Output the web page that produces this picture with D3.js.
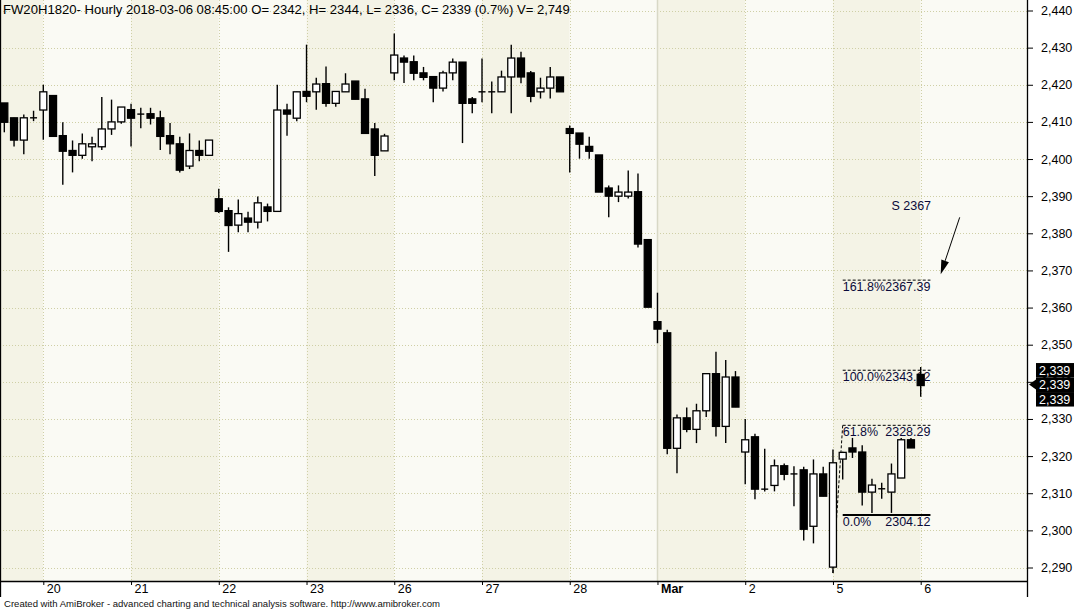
<!DOCTYPE html>
<html><head><meta charset="utf-8">
<script src="https://cdn.jsdelivr.net/npm/d3@7"></script>
<style>body{margin:0;background:#fff;} svg{display:block;font-family:"Liberation Sans",Arial,sans-serif;}</style>
</head><body><svg id="c" width="1089" height="609"></svg>
<script>
// ---- data (hourly bars) ----
const openP  = [2415.1,2411.1,2405.1,2411.1,2413.2,2417.1,2406.3,2402.3,2401.0,2403.3,2403.3,2408.1,2410.0,2413.3,2412.1,2412.2,2411.1,2406.3,2404.1,2398.1,2402.3,2401.0,
 2389.3,2386.1,2382.2,2384.1,2383.0,2387.1,2385.9,2413.2,2411.0,2418.2,2418.1,2420.3,2415.0,2418.1,2421.0,2416.2,2408.1,2402.2,
 2423.2,2427.2,2426.2,2423.2,2422.2,2419.1,2423.2,2426.1,2416.2,2418.1,2418.1,2418.1,2422.1,2427.2,2423.2,2418.1,2419.1,2422.1,
 2408.2,2407.0,2403.4,2401.1,2392.2,2390.0,2390.0,2391.2,2378.3,2356.2,2353.2,2322.1,2330.3,2327.2,2332.2,2342.2,2328.0,2341.3,
 2321.1,2325.2,2311.1,2312.1,2317.4,2315.2,2316.3,2301.1,2315.2,2290.1,2319.2,2322.2,2321.1,2310.3,2311.2,2310.3,2314.1,2324.4,2342];
const highP  = [2415.1,2411.1,2412.0,2413.0,2420.0,2417.1,2409.9,2405.0,2406.9,2406.0,2416.7,2416.0,2414.0,2414.9,2413.8,2413.8,2413.0,2409.7,2406.0,2406.9,2405.0,2405.1,
 2392.0,2387.0,2389.1,2385.8,2389.9,2388.0,2420.0,2414.9,2418.1,2430.8,2421.9,2424.9,2418.2,2423.1,2421.0,2418.9,2409.7,2406.8,
 2433.8,2427.9,2427.9,2424.8,2422.2,2423.8,2427.1,2426.1,2416.7,2427.1,2420.9,2423.8,2430.8,2428.9,2423.7,2421.9,2424.8,2422.1,
 2409.0,2407.0,2406.0,2401.1,2392.9,2392.9,2396.9,2396.1,2378.3,2364.0,2354.0,2331.2,2333.1,2334.1,2342.2,2348.1,2345.9,2342.9,
 2330.0,2326.0,2322.0,2319.1,2318.0,2317.3,2317.1,2319.1,2317.1,2321.8,2321.2,2324.9,2322.9,2313.9,2312.8,2318.0,2324.9,2324.9,2344];
const lowP   = [2407.2,2403.4,2401.3,2410.2,2405.2,2406.1,2393.1,2396.4,2400.1,2399.4,2402.4,2406.5,2409.5,2403.4,2408.3,2409.3,2402.4,2401.3,2396.4,2397.3,2399.4,2401.0,
 2385.5,2375.0,2380.3,2380.3,2381.3,2383.2,2385.9,2406.3,2410.2,2415.3,2413.3,2414.1,2414.1,2418.1,2416.1,2406.9,2395.4,2402.2,
 2421.2,2420.5,2421.2,2421.2,2415.3,2418.2,2421.2,2404.3,2412.3,2415.3,2412.3,2418.1,2412.3,2420.4,2415.3,2416.3,2416.3,2418.1,
 2396.4,2400.1,2400.1,2391.1,2384.3,2388.4,2389.4,2376.2,2360.1,2350.4,2320.5,2315.4,2326.4,2323.5,2330.5,2325.3,2323.5,2333.2,
 2312.4,2308.4,2310.5,2310.5,2313.5,2306.5,2297.3,2296.5,2309.2,2288.5,2313.7,2319.5,2306.7,2304.7,2308.5,2304.7,2314.1,2322.2,2336];
const closeP = [2409.9,2405.1,2411.1,2411.1,2418.1,2406.1,2402.1,2401.0,2404.1,2404.1,2408.1,2410.0,2414.0,2411.0,2412.1,2411.0,2406.1,2404.1,2397.0,2402.3,2401.0,2405.1,
 2385.9,2382.1,2385.3,2383.0,2388.2,2385.9,2413.2,2412.1,2418.1,2416.9,2420.2,2415.0,2418.2,2420.2,2416.1,2406.9,2401.0,2406.2,
 2428.0,2426.1,2423.1,2422.0,2419.1,2423.2,2426.1,2415.0,2415.0,2418.1,2418.1,2422.1,2427.2,2422.1,2416.9,2419.1,2422.1,2418.1,
 2406.9,2404.0,2402.1,2391.1,2390.0,2391.1,2391.1,2377.1,2360.1,2354.2,2322.1,2330.3,2327.2,2332.2,2342.2,2328.0,2341.3,2333.2,
 2324.4,2311.1,2311.1,2317.4,2315.1,2315.2,2300.3,2315.2,2309.2,2318.2,2321.0,2321.1,2310.3,2312.2,2311.2,2315.2,2324.4,2322.2,2339];

const dayLabels = ["20","21","22","23","26","27","28","Mar","2","5","6"];
const dayStart  = [4,13,22,31,40,49,58,67,76,85,94];
const priceTicks = [2290,2300,2310,2320,2330,2340,2350,2360,2370,2380,2390,2400,2410,2420,2430,2440];

const fibPct  = ["161.8%","100.0%","61.8%","0.0%"];
const fibVal  = [2367.39,2343.12,2328.29,2304.12];
const fibFrom = 86, fibTo = 95;
const lastLabels = ["2,339","2,339","2,339"];
const lastPrice = 2339;

const titleText = "FW20H1820- Hourly 2018-03-06 08:45:00 O= 2342, H= 2344, L= 2336, C= 2339 (0.7%) V= 2,749";
const footerText = "Created with AmiBroker - advanced charting and technical analysis software. http://www.amibroker.com";

// ---- layout ----
const plotR = 1027, plotB = 581;
const svg = d3.select("#c");
const x = d3.scaleLinear().domain([4, 94]).range([43.3, 920.7]);
const y = d3.scaleLinear().domain([2290, 2440]).range([567.5, 10.5]);

const BEIGE = "#f4f3e6", LIGHT = "#fafaf4", GRID = "#cfcfa6";

// day shading
const bounds = [0].concat(dayStart.map(d => x(d))).concat([plotR]);
for (let k = 0; k < bounds.length - 1; k++) {
  svg.append("rect").attr("x", bounds[k]).attr("y", 0)
    .attr("width", bounds[k+1] - bounds[k]).attr("height", plotB)
    .attr("fill", (k % 2 === 0) ? BEIGE : LIGHT);
}
// horizontal grid
svg.append("g").selectAll("line").data(priceTicks).join("line")
  .attr("x1", 0).attr("x2", plotR)
  .attr("y1", d => Math.round(y(d)) + 0.5).attr("y2", d => Math.round(y(d)) + 0.5)
  .attr("stroke", GRID).attr("stroke-dasharray", "1,2");
// vertical grid
svg.append("g").selectAll("line").data(dayStart).join("line")
  .attr("x1", d => Math.round(x(d)) + 0.5).attr("x2", d => Math.round(x(d)) + 0.5)
  .attr("y1", 0).attr("y2", plotB)
  .attr("stroke", (d, i) => dayLabels[i] === "Mar" ? "#d8d8c6" : GRID)
  .attr("stroke-width", (d, i) => dayLabels[i] === "Mar" ? 1.5 : 1)
  .attr("stroke-dasharray", (d, i) => dayLabels[i] === "Mar" ? null : "1,2");

// fib levels & text
const fg = svg.append("g");
fibVal.forEach((v, i) => {
  const yy = y(v);
  fg.append("line").attr("x1", x(fibFrom)).attr("x2", x(fibTo))
    .attr("y1", yy).attr("y2", yy).attr("stroke", "#000")
    .attr("stroke-width", i === 3 ? 2 : 1)
    .attr("stroke-dasharray", i === 3 ? null : "3,2");
  fg.append("text").attr("x", x(fibFrom)).attr("y", yy + 11)
    .attr("font-size", 12.5).attr("fill", "#0a0a3a").text(fibPct[i]);
  fg.append("text").attr("x", x(fibTo)).attr("y", yy + 11).attr("text-anchor", "end")
    .attr("font-size", 12.5).attr("fill", "#0a0a3a").text(v.toFixed(2));
});
// fib trend line (dashed)
fg.append("line").attr("x1", x(85)).attr("y1", y(lowP[85]))
  .attr("x2", x(86)).attr("y2", y(fibVal[2]))
  .attr("stroke", "#000").attr("stroke-dasharray", "3,2");

// candles
const bw = 7;
const cg = svg.append("g");
openP.forEach((o, i) => {
  const c = closeP[i], hi = highP[i], lo = lowP[i];
  const cx = x(i);
  cg.append("line").attr("x1", cx).attr("x2", cx).attr("y1", y(hi)).attr("y2", y(lo))
    .attr("stroke", "#000").attr("stroke-width", 1.4);
  if (Math.abs(o - c) < 0.05) {
    cg.append("line").attr("x1", cx - bw/2).attr("x2", cx + bw/2)
      .attr("y1", y(o)).attr("y2", y(o)).attr("stroke", "#000").attr("stroke-width", 1.4);
  } else {
    const top = y(Math.max(o, c)), bot = y(Math.min(o, c));
    cg.append("rect").attr("x", cx - bw/2).attr("y", top)
      .attr("width", bw).attr("height", Math.max(bot - top, 1))
      .attr("fill", c > o ? "#fff" : "#000").attr("stroke", "#000").attr("stroke-width", 1.3);
  }
});

// S 2367 annotation + arrow
svg.append("text").attr("x", x(91.0)).attr("y", y(2387.4) + 4)
  .attr("font-size", 12.5).attr("fill", "#0a0a3a").text("S 2367");
const a0 = [x(98.0), y(2384.3)], a1 = [x(96.05), y(2369.0)];
const dx = a1[0] - a0[0], dy = a1[1] - a0[1], L = Math.hypot(dx, dy);
const ux = dx / L, uy = dy / L;
const bx = a1[0] - 14 * ux, by = a1[1] - 14 * uy;
svg.append("line").attr("x1", a0[0]).attr("y1", a0[1]).attr("x2", bx).attr("y2", by)
  .attr("stroke", "#000").attr("stroke-width", 1);
svg.append("path").attr("d", `M${a1[0]},${a1[1]}L${bx - 4*uy},${by + 4*ux}L${bx + 4*uy},${by - 4*ux}Z`)
  .attr("fill", "#000");

// axes
const yAxis = d3.axisRight(y).tickValues(priceTicks).tickFormat(d3.format(","))
  .tickSizeInner(6).tickSizeOuter(0).tickPadding(8);
const ya = svg.append("g").attr("transform", `translate(${plotR},0)`).call(yAxis);
ya.select(".domain").remove();
ya.selectAll("text").attr("font-size", 12.5).attr("font-family", "Liberation Sans, Arial, sans-serif").attr("fill", "#000");
ya.selectAll("line").attr("stroke", "#000");

const xAxis = d3.axisBottom(x).tickValues(dayStart).tickFormat((d, i) => dayLabels[i])
  .tickSizeInner(4).tickSizeOuter(0).tickPadding(0);
const xa = svg.append("g").attr("transform", `translate(0,${plotB})`).call(xAxis);
xa.select(".domain").remove();
xa.selectAll("text").attr("text-anchor", "start").attr("x", 3).attr("y", 3).attr("dy", "0.71em")
  .attr("font-size", 12.5).attr("font-family", "Liberation Sans, Arial, sans-serif").attr("fill", "#000")
  .attr("font-weight", (d, i) => dayLabels[i] === "Mar" ? "bold" : null);
xa.selectAll("line").attr("stroke", "#000");

// frame lines
svg.append("line").attr("x1", 0).attr("x2", plotR + 0.5).attr("y1", plotB + 0.5).attr("y2", plotB + 0.5).attr("stroke", "#000").attr("stroke-width", 1.3);
svg.append("line").attr("x1", plotR + 0.5).attr("x2", plotR + 0.5).attr("y1", 0).attr("y2", 597).attr("stroke", "#000").attr("stroke-width", 1.3);
svg.append("line").attr("x1", 0.5).attr("x2", 0.5).attr("y1", 0).attr("y2", 597).attr("stroke", "#000").attr("stroke-width", 1.3);

// last price boxes
const ly = y(lastPrice) - 1;
svg.append("path").attr("d", `M${plotR + 2},${ly}L${plotR + 9},${ly - 5}L${plotR + 9},${ly + 5}Z`).attr("fill", "#000");
lastLabels.forEach((t, i) => {
  const top = ly - 21.5 + i * 14.5;
  svg.append("rect").attr("x", plotR + 9).attr("y", top).attr("width", 38).attr("height", 14.5).attr("fill", "#000");
  svg.append("text").attr("x", plotR + 12).attr("y", top + 11.5).attr("font-size", 12.5).attr("fill", "#fff").text(t);
});

// title & footer
svg.append("text").attr("x", 3).attr("y", 13.5).attr("font-size", 13.1).attr("fill", "#000").text(titleText);
svg.append("text").attr("x", 4).attr("y", 606.5).attr("font-size", 9.5).attr("fill", "#111")
  .attr("textLength", 436).attr("lengthAdjust", "spacingAndGlyphs").text(footerText);
</script></body></html>
